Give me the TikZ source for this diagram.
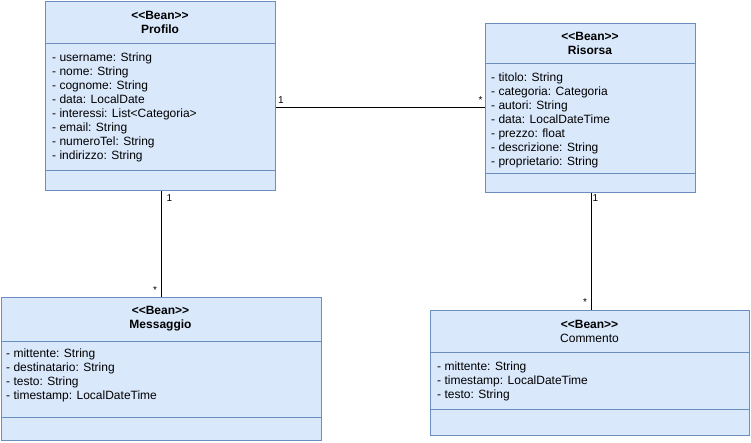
\documentclass[tikz,border=0pt]{standalone}
\usepackage{fontspec}
\setmainfont{Liberation Sans}[Ligatures=TeXOff]
\definecolor{fillc}{HTML}{DAE8FC}
\definecolor{strokec}{HTML}{6C8EBF}
\begin{document}
\begin{tikzpicture}[x=1pt,y=-1pt,
  box/.style={draw=strokec, fill=fillc, line width=0.9pt, anchor=north west, inner sep=0pt},
  sep/.style={draw=strokec, line width=0.9pt},
  head/.style={align=center, font=\fontsize{12}{14}\selectfont, inner sep=0pt},
  attr/.style={anchor=base west, font=\fontsize{12}{14}\selectfont, inner sep=0pt},
  conn/.style={draw=black, line width=0.9pt},
  mult/.style={font=\fontsize{10}{12}\selectfont, inner sep=0pt}]
\useasboundingbox (0,0) rectangle (751,443);
% Profilo
\node[box, minimum width=230pt, minimum height=189pt] (prof) at (45,1) {};
\draw[sep] (45,43) -- (275,43) (45,170) -- (275,170);
\node[head] (profh) at (160,22) {\textbf{<<Bean>>}\\\textbf{Profilo}};
\foreach \t [count=\i] in {- username: String,- nome: String,- cognome: String,- data: LocalDate,- interessi: List<Categoria>,- email: String,- numeroTel: String,- indirizzo: String}
  \node[attr] (pa\i) at (52,48+14*\i) {\t};
% Risorsa
\node[box, minimum width=210pt, minimum height=169pt] (ris) at (485,23) {};
\draw[sep] (485,63) -- (695,63) (485,173) -- (695,173);
\node[head] (rish) at (590,43.5) {\textbf{<<Bean>>}\\\textbf{Risorsa}};
\foreach \t [count=\i] in {- titolo: String,- categoria: Categoria,- autori: String,- data: LocalDateTime,- prezzo: float,- descrizione: String,- proprietario: String}
  \node[attr] (ra\i) at (491,68+14*\i) {\t};
% Messaggio
\node[box, minimum width=320pt, minimum height=143pt] (mess) at (0.5,297) {};
\draw[sep] (0.5,341) -- (320.5,341) (0.5,417) -- (320.5,417);
\node[head] (messh) at (160.5,319) {\textbf{<<Bean>>}\\\textbf{Messaggio}};
\foreach \t [count=\i] in {- mittente: String,- destinatario: String,- testo: String,- timestamp: LocalDateTime}
  \node[attr] (ma\i) at (6,343+14*\i) {\t};
% Commento
\node[box, minimum width=319pt, minimum height=125pt] (comm) at (430,310) {};
\draw[sep] (430,352) -- (749,352) (430,409) -- (749,409);
\node[head] (commh) at (589.5,331) {\textbf{<<Bean>>}\\Commento};
\foreach \t [count=\i] in {- mittente: String,- timestamp: LocalDateTime,- testo: String}
  \node[attr] (ca\i) at (437,356+14*\i) {\t};
% connectors
\coordinate (hy) at (0,107);
\coordinate (vx1) at (161,0);
\coordinate (vx2) at (591,0);
\draw[conn] (prof.east |- hy) -- (ris.west |- hy);
\draw[conn] (prof.south -| vx1) -- (mess.north -| vx1);
\draw[conn] (ris.south -| vx2) -- (comm.north -| vx2);
% multiplicities
\node[mult] (m1) at (281,100) {1};
\node[mult] (m2) at (480.5,100) {*};
\node[mult] (m3) at (169.5,198) {1};
\node[mult] (m4) at (155,290) {*};
\node[mult] (m5) at (595.5,198.5) {1};
\node[mult] (m6) at (585,302) {*};
\end{tikzpicture}
\end{document}
